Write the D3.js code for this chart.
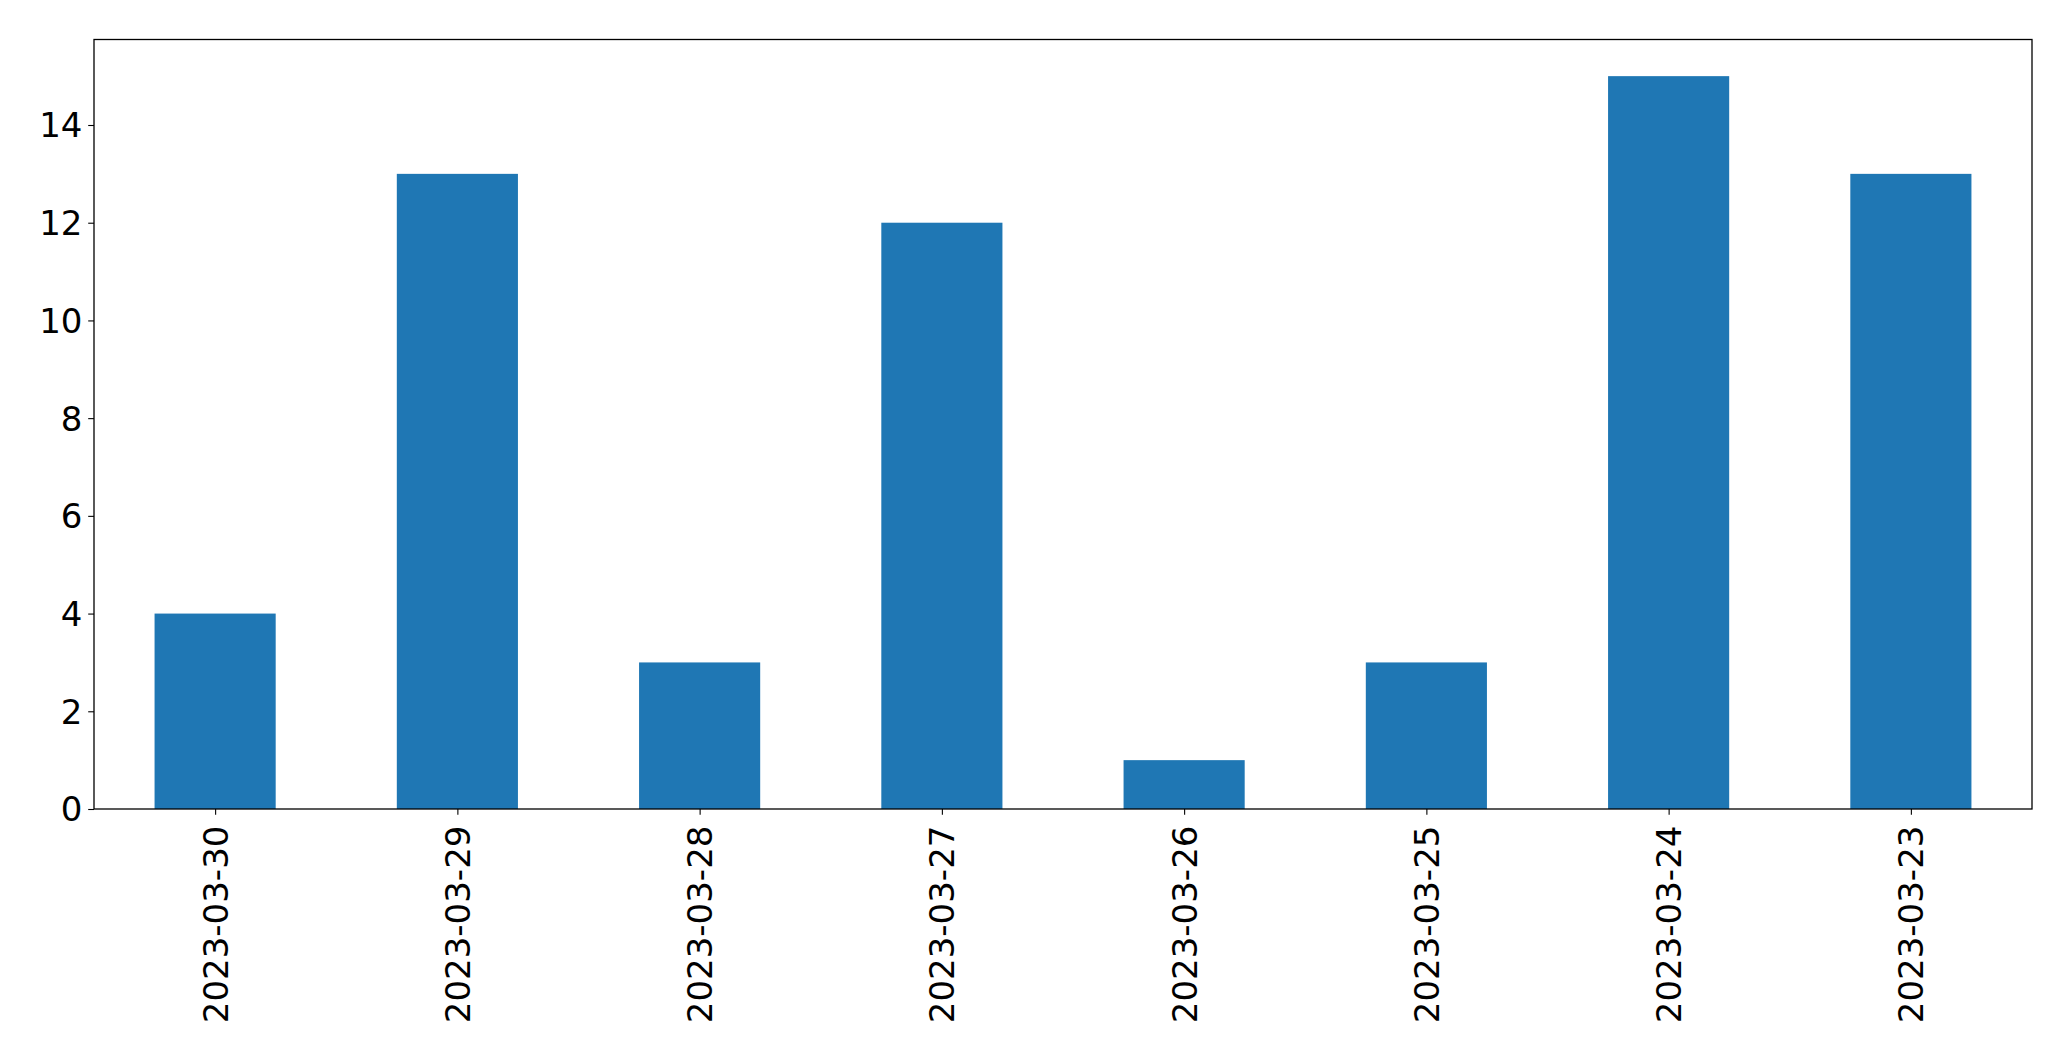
<!DOCTYPE html>
<html>
<head>
<meta charset="utf-8">
<script src="https://cdn.jsdelivr.net/npm/d3@7"></script>
<style>
  html, body { margin: 0; padding: 0; background: #ffffff; }
  svg { display: block; }
  text { font-family: "DejaVu Sans", sans-serif; }
</style>
</head>
<body>
<svg id="chart" width="2071" height="1061"></svg>
<script>
const categories = ["2023-03-30", "2023-03-29", "2023-03-28", "2023-03-27", "2023-03-26", "2023-03-25", "2023-03-24", "2023-03-23"];
const counts = [4, 13, 3, 12, 1, 3, 15, 13];
const yTicks = [0, 2, 4, 6, 8, 10, 12, 14];

const W = 2071, H = 1061;
const m = { left: 94, right: 2032, top: 39.5, bottom: 809 };
const fontSize = 34;
const tickLen = 5.8, tickPad = 5.8;

const svg = d3.select("#chart");

const yMax = d3.max(counts) * 1.05;
const y = d3.scaleLinear().domain([0, yMax]).range([m.bottom, m.top]);

// matplotlib-style categorical axis: xlim [-0.5, n-0.5], bar width 0.5
const xLin = d3.scaleLinear().domain([-0.5, categories.length - 0.5]).range([m.left, m.right]);
const x = d3.scalePoint().domain(categories).range([xLin(0), xLin(categories.length - 1)]);
const barW = xLin(0.5) - xLin(0);

// bars
svg.append("g")
  .selectAll("rect")
  .data(categories.map((c, i) => ({ c, v: counts[i] })))
  .join("rect")
  .attr("x", d => x(d.c) - barW / 2)
  .attr("width", barW)
  .attr("y", d => y(d.v))
  .attr("height", d => y(0) - y(d.v))
  .attr("fill", "#1f77b4");

// y axis
const yAxis = d3.axisLeft(y).tickValues(yTicks).tickSize(tickLen).tickPadding(tickPad).tickFormat(d3.format("d"));
const gy = svg.append("g").attr("transform", `translate(${m.left},0)`).call(yAxis);
gy.select(".domain").remove();
gy.selectAll("line").attr("stroke", "#000").attr("stroke-width", 1.1);
gy.selectAll("text").attr("font-size", fontSize).attr("fill", "#000")
  .attr("font-family", "DejaVu Sans, sans-serif").attr("dy", "0.35em");

// x axis
const xAxis = d3.axisBottom(x).tickSize(tickLen).tickPadding(tickPad);
const gx = svg.append("g").attr("transform", `translate(0,${m.bottom})`).call(xAxis);
gx.select(".domain").remove();
gx.selectAll("line").attr("stroke", "#000").attr("stroke-width", 1.1);
gx.selectAll("text")
  .attr("font-size", fontSize).attr("fill", "#000")
  .attr("font-family", "DejaVu Sans, sans-serif")
  .attr("text-anchor", "end")
  .attr("dy", null)
  .attr("y", 0)
  .attr("transform", `translate(0,${tickLen + tickPad + 5}) rotate(-90)`)
  .attr("dominant-baseline", "central");

// frame
svg.append("rect")
  .attr("x", m.left).attr("y", m.top)
  .attr("width", m.right - m.left).attr("height", m.bottom - m.top)
  .attr("fill", "none").attr("stroke", "#000").attr("stroke-width", 1.3);
</script>
</body>
</html>
